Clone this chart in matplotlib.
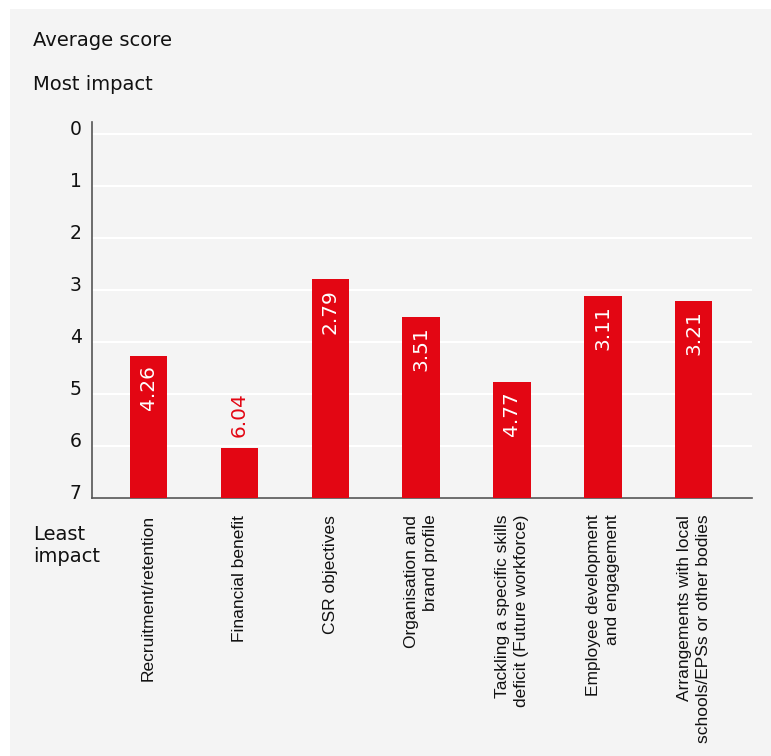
import matplotlib
matplotlib.use('Agg')
import matplotlib.pyplot as plt
from matplotlib.patches import Rectangle

categories = ["Recruitment/retention", "Financial benefit", "CSR objectives",
              "Organisation and\nbrand profile",
              "Tackling a specific skills\ndeficit (Future workforce)",
              "Employee development\nand engagement",
              "Arrangements with local\nschools/EPSs or other bodies"]
scores = [4.26, 6.04, 2.79, 3.51, 4.77, 3.11, 3.21]
yticks = [0, 1, 2, 3, 4, 5, 6, 7]

red = '#e30613'
panel = '#f4f4f4'
ink = '#111111'

fig = plt.figure(figsize=(7.71, 7.56), dpi=100)
fig.patches.append(Rectangle((10 / 771, 0), 1, 1 - 9 / 756, transform=fig.transFigure,
                             facecolor=panel, edgecolor='none', zorder=-10))

ax = fig.add_axes([92 / 771, 1 - 498 / 756, (752 - 92) / 771, (498 - 122) / 756])
ax.set_facecolor(panel)
ax.set_xlim(-0.62, 6.64)
ax.set_ylim(7, -0.23)

x = range(len(categories))
# bars hang from the "least impact" baseline at 7 up to each score
ax.bar(x, [7 - s for s in scores], bottom=scores, width=0.41, color=red, zorder=3)

for i, s in enumerate(scores):
    if 7 - s > 1.2:
        ax.annotate(f"{s:.2f}", (i, s), xytext=(0, -7), textcoords='offset points',
                    rotation=90, ha='center', va='top', color='white', fontsize=14.5)
    else:
        ax.annotate(f"{s:.2f}", (i, s), xytext=(0, 8), textcoords='offset points',
                    rotation=90, ha='center', va='bottom', color=red, fontsize=14.5)

# y labels sit a little above their gridlines
ax.set_yticks(yticks)
ax.set_yticklabels([])
ax.tick_params(axis='y', length=0)
for t in yticks:
    ax.annotate(str(t), (0, t), xycoords=('axes fraction', 'data'),
                xytext=(-7.5, 3), textcoords='offset points',
                ha='right', va='center', fontsize=13.5, color=ink)

ax.set_xticks(list(x))
ax.set_xticklabels(categories, rotation=90, ha='center', va='top', multialignment='right',
                   fontsize=12.5, color=ink, family='Liberation Sans', linespacing=1.35)
ax.tick_params(axis='x', length=0, pad=12)

ax.grid(axis='y', color='white', linewidth=1.5, zorder=0)
for side in ['top', 'right']:
    ax.spines[side].set_visible(False)
for side in ['left', 'bottom']:
    ax.spines[side].set_color('#555555')
    ax.spines[side].set_linewidth(1.2)

fig.text(33 / 771, 1 - 40 / 756, "Average score", fontsize=14, color=ink, va='center')
fig.text(33 / 771, 1 - 85 / 756, "Most impact", fontsize=14, color=ink, va='center')
fig.text(33 / 771, 1 - 546 / 756, "Least\nimpact", fontsize=14, color=ink, va='center',
         linespacing=1.2)

fig.savefig('out.png', dpi=100, facecolor='white')
